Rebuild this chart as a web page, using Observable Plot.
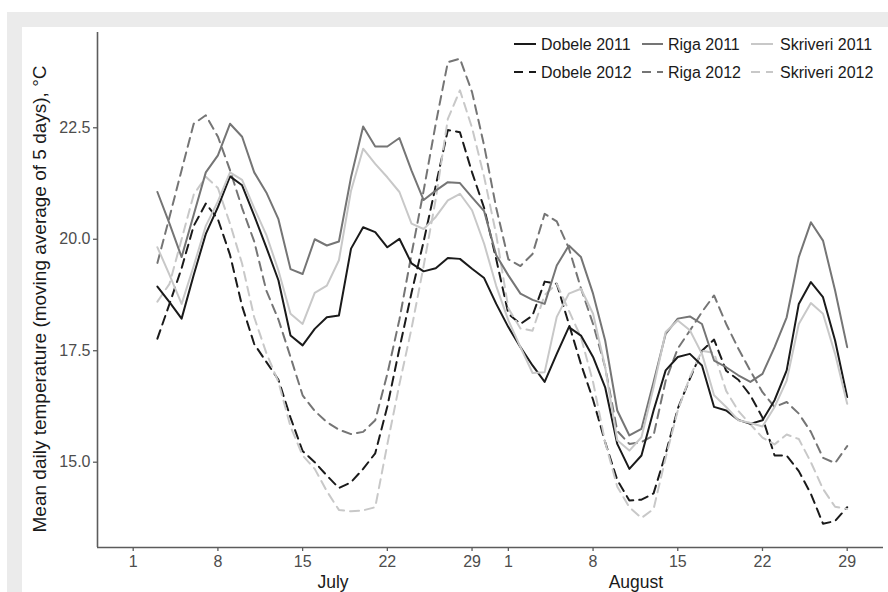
<!DOCTYPE html>
<html><head><meta charset="utf-8">
<script src="https://cdn.jsdelivr.net/npm/d3@7"></script>
<script src="https://cdn.jsdelivr.net/npm/@observablehq/plot@0.6"></script>
<style>
body{margin:0;background:#fff;font-family:"Liberation Sans",Arial,sans-serif;width:888px;height:592px;overflow:hidden;position:relative;}
#frame{position:absolute;left:7px;top:12px;width:881px;height:580px;background:#ebebeb;}
#panel{position:absolute;left:22px;top:27px;width:866px;height:565px;background:#fff;}
#chart{position:absolute;left:0;top:0;}
#legend{position:absolute;left:0;top:0;pointer-events:none;}
</style></head><body>
<div id="frame"></div><div id="panel"></div><div id="chart"></div><svg id="legend" width="888" height="592"></svg>
<script>
// Days: July 3 .. August 29 (moving average of 5 days)
const stations = ["Dobele", "Riga", "Skriveri"];
const years = ["2011", "2012"];
const dobele2011 = [18.94,18.59,18.22,19.2,20.12,20.72,21.41,21.21,20.53,19.82, 19.08,17.84,17.62,17.99,18.25,18.29,19.79,20.27,20.16,19.82, 20.01,19.46,19.28,19.35,19.58,19.56,19.34,19.13,18.55,18.03, 17.58,17.17,16.8,17.43,18.03,17.84,17.36,16.68,15.41,14.85, 15.15,16.16,17.06,17.36,17.43,17.17,16.24,16.16,15.95,15.86, 15.94,16.39,17.06,18.55,19.04,18.7,17.73,16.46];
const riga2011 = [21.06,20.35,19.6,20.55,21.5,21.88,22.59,22.3,21.5,21.05, 20.45,19.33,19.22,20.0,19.86,19.95,21.39,22.53,22.08,22.08, 22.27,21.54,20.88,21.09,21.28,21.26,20.94,20.63,19.64,19.19, 18.78,18.64,18.55,19.41,19.86,19.6,18.78,17.73,16.16,15.6, 15.75,16.8,17.88,18.22,18.27,18.1,17.28,17.13,16.95,16.8, 16.98,17.58,18.25,19.6,20.38,19.97,18.85,17.58];
const skriveri2011 = [19.82,19.2,18.55,19.4,20.3,20.85,21.5,21.33,20.7,20.1, 19.3,18.33,18.1,18.8,18.96,19.53,21.09,22.03,21.69,21.39, 21.06,20.35,20.23,20.5,20.87,21.02,20.65,19.9,18.95,18.18, 17.58,17.0,17.02,18.26,18.78,18.89,18.33,17.13,15.49,15.26, 15.56,16.68,17.92,18.18,17.96,17.43,16.5,16.24,15.94,15.88, 15.8,16.24,16.83,18.1,18.57,18.33,17.43,16.31];
const dobele2012 = [17.77,18.55,19.35,20.3,20.8,20.45,19.65,18.5,17.65,17.25, 16.85,16.0,15.25,15.0,14.7,14.42,14.55,14.85,15.2,16.25, 17.55,18.8,19.95,21.2,22.45,22.4,21.5,20.7,19.55,18.33, 18.1,18.29,19.05,19.0,18.1,17.2,16.4,15.45,14.6,14.14, 14.16,14.3,15.19,16.2,16.87,17.5,17.75,17.05,16.85,16.5, 16.0,15.15,15.15,14.8,14.29,13.62,13.68,13.99];
const riga2012 = [19.47,20.5,21.55,22.59,22.78,22.3,21.55,20.7,19.95,18.85, 18.2,17.36,16.5,16.15,15.9,15.73,15.63,15.68,15.94,16.98, 18.2,19.67,21.09,22.59,23.97,24.05,23.3,22.1,20.7,19.55, 19.4,19.67,20.57,20.4,19.8,18.9,18.1,17.13,15.7,15.41, 15.45,15.6,16.83,17.55,17.95,18.37,18.74,18.1,17.55,17.05, 16.57,16.24,16.35,16.09,15.68,15.1,14.98,15.36];
const skriveri2012 = [18.6,19.0,20.0,21.0,21.4,21.15,20.35,19.45,18.25,17.45, 16.8,15.8,15.15,14.85,14.35,13.93,13.9,13.92,13.99,15.4, 16.75,18.0,19.4,20.9,22.7,23.34,22.5,21.4,20.1,18.45, 18.0,17.95,18.75,19.0,18.4,17.8,16.8,15.45,14.45,13.99, 13.75,13.95,15.1,16.16,16.91,17.5,17.45,16.6,16.15,15.85, 15.55,15.4,15.62,15.52,15.0,14.4,14.0,13.95];
const xTickLabels = ["1","8","15","22","29","1","8","15","22","29"];
const xTickDates = ["2012-07-01","2012-07-08","2012-07-15","2012-07-22","2012-07-29","2012-08-01","2012-08-08","2012-08-15","2012-08-22","2012-08-29"];
const monthLabels = ["July", "August"];
const monthLabelDates = ["2012-07-17T12:15Z", "2012-08-11T13:00Z"];
const yTicks = [15.0, 17.5, 20.0, 22.5];
const yTitle = "Mean daily temperature (moving average of 5 days), °C";

const dates = d3.utcDay.range(new Date(Date.UTC(2012, 6, 3)), new Date(Date.UTC(2012, 7, 30)));
const seriesValues = {
  "Dobele 2011": dobele2011, "Riga 2011": riga2011, "Skriveri 2011": skriveri2011,
  "Dobele 2012": dobele2012, "Riga 2012": riga2012, "Skriveri 2012": skriveri2012
};
const rows = [];
for (const year of years) for (const st of stations) {
  const name = st + " " + year;
  seriesValues[name].forEach((v, i) => rows.push({date: dates[i], value: v, station: st, year, series: name}));
}
const tickDates = xTickDates.map(s => new Date(s));
const monthDates = monthLabelDates.map(s => new Date(s));
const dayMs = 86400000;
const xDomain = [new Date(Date.UTC(2012, 6, 1) - 2.95 * dayMs), new Date(Date.UTC(2012, 6, 1) + 62.0 * dayMs)];
const yDomain = [13.087, 24.637];
const colors = {Dobele: "#1a1a1a", Riga: "#757575", Skriveri: "#c8c8c8"};
const dash = "9,6";
const axisGrey = "#5c5c5c";
const font = "'Liberation Sans', Arial, sans-serif";

const chart = Plot.plot({
  width: 888, height: 592,
  marginLeft: 97, marginRight: 5, marginTop: 32, marginBottom: 45,
  style: {background: "transparent", fontFamily: font, fontSize: "16px", color: "#4d4d4d"},
  x: {type: "utc", domain: xDomain},
  y: {domain: yDomain},
  color: {domain: stations, range: stations.map(s => colors[s])},
  marks: [
    Plot.axisX({ticks: tickDates, tickFormat: d => xTickLabels[tickDates.findIndex(t => +t === +d)], tickSize: 4, tickPadding: 4, label: null, fontSize: 16, stroke: axisGrey, strokeWidth: 1.3, fill: "#4d4d4d"}),
    Plot.axisX({ticks: monthDates, tickFormat: d => monthLabels[monthDates.findIndex(t => +t === +d)], tickSize: 0, tickPadding: 28, label: null, fontSize: 17.5, fill: "#1a1a1a"}),
    Plot.axisY({ticks: yTicks, tickFormat: d3.format(".1f"), tickSize: 4, tickPadding: 3, label: null, fontSize: 16, stroke: axisGrey, strokeWidth: 1.3, fill: "#4d4d4d"}),
    Plot.ruleX([xDomain[0]], {stroke: axisGrey, strokeWidth: 1.6}),
    Plot.ruleY([yDomain[0]], {stroke: axisGrey, strokeWidth: 1.6}),
    Plot.line(rows.filter(d => d.year === "2012"), {x: "date", y: "value", z: "series", stroke: "station", strokeWidth: 2, strokeDasharray: dash}),
    Plot.line(rows.filter(d => d.year === "2011"), {x: "date", y: "value", z: "series", stroke: "station", strokeWidth: 2}),
    Plot.text([yTitle], {text: d => d, frameAnchor: "left", textAnchor: "middle", rotate: -90, dx: -58, dy: 9, fontSize: 19, fill: "#1a1a1a"})
  ]
});
document.getElementById("chart").append(chart);

// legend (two rows inside the panel, top right)
const legend = d3.select("#legend");
const legendCols = [{key0: 514, key1: 536, text: 541}, {key0: 642, key1: 663, text: 668}, {key0: 751, key1: 773, text: 780}];
const legendRows = [{year: "2011", y: 44, dash: null}, {year: "2012", y: 72, dash: dash}];
legendRows.forEach(r => {
  stations.forEach((st, i) => {
    const c = legendCols[i];
    legend.append("line").attr("x1", c.key0).attr("x2", c.key1).attr("y1", r.y).attr("y2", r.y)
      .attr("stroke", colors[st]).attr("stroke-width", 2).attr("stroke-dasharray", r.dash);
    legend.append("text").attr("x", c.text).attr("y", r.y).attr("dy", "0.35em")
      .attr("font-size", 16).attr("font-family", font).attr("fill", "#1a1a1a")
      .text(st + " " + r.year);
  });
});
</script>
</body></html>
